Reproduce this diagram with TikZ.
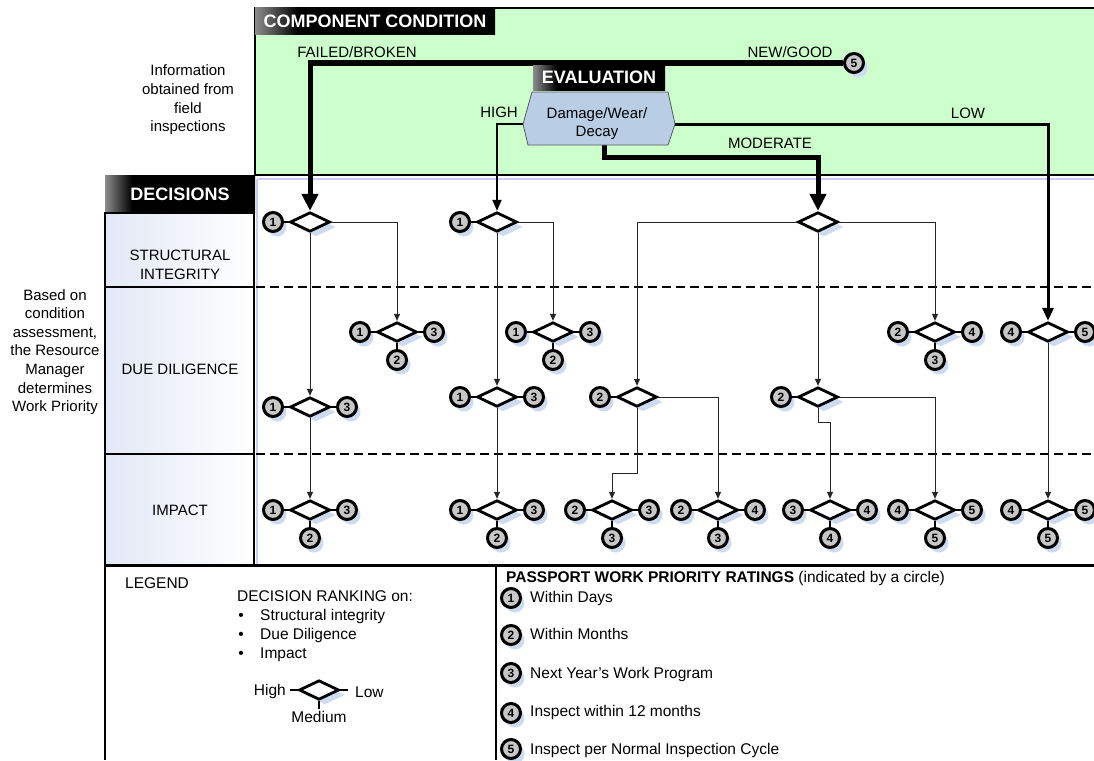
\documentclass[tikz,border=0pt]{standalone}
\usepackage{fontspec}
\setmainfont{Liberation Sans}
\usetikzlibrary{arrows.meta,shapes.geometric,shadows}
\definecolor{ccgreen}{RGB}{204,255,204}
\definecolor{hexblue}{RGB}{185,205,229}
\definecolor{shblue}{RGB}{205,218,240}
\definecolor{colblue}{RGB}{226,232,246}
\pgfdeclarehorizontalshading{hdrsh}{100bp}{color(0bp)=(black!45); color(25bp)=(black!45); color(34bp)=(black); color(100bp)=(black)}
\newcommand{\mydec}[6]{%
  \node[dm] (#1) at (#2,#3) {};%
  \if\relax\detokenize{#4}\relax\else
    \node[pc] (#1l) at (#2-37,#3) {#4};\draw[clink] (#1l) -- (#1.west);\fi
  \if\relax\detokenize{#5}\relax\else
    \node[pc] (#1r) at (#2+37,#3) {#5};\draw[clink] (#1r) -- (#1.east);\fi
  \if\relax\detokenize{#6}\relax\else
    \node[pc] (#1b) at (#2,#3+28) {#6};\draw[clink] (#1b) -- (#1.south);\fi
}
\begin{document}
\begin{tikzpicture}[x=1pt,y=-1pt,
  txt/.style={font=\fontsize{15}{18.6}\selectfont, inner sep=0pt, align=center},
  ltxt/.style={font=\fontsize{15.5}{18.6}\selectfont, inner sep=0pt},
  hdrbox/.style={shading=hdrsh, text=white, font=\bfseries\fontsize{18}{20}\selectfont, inner sep=0pt},
  colbox/.style={draw, line width=2.5pt, left color=colblue, right color=white, inner sep=0pt},
  pc/.style={circle, draw, line width=3pt, fill=black!22, minimum size=19pt, inner sep=0pt,
    font=\bfseries\fontsize{12}{12}\selectfont,
    drop shadow={shadow xshift=4pt, shadow yshift=-5pt, fill=shblue, opacity=1}},
  dm/.style={diamond, draw, line width=2.8pt, fill=white, minimum width=40pt, minimum height=19.5pt, inner sep=0pt,
    drop shadow={shadow xshift=6pt, shadow yshift=-5pt, fill=shblue, opacity=1}},
  clink/.style={line width=1.3pt},
  tarr/.style={line width=0.9pt, draw=black!85, -{Triangle[width=6pt,length=7pt]}},
  bigarr/.style={line width=5pt, -{Triangle[width=16pt,length=17pt]}},
  higharr/.style={line width=2pt, -{Triangle[width=9pt,length=11pt]}},
  lowarr/.style={line width=3pt, -{Triangle[width=11pt,length=13pt]}},
  dsh/.style={dash pattern=on 9pt off 5pt, line width=1.4pt}
]
\useasboundingbox (0,0) rectangle (1094,760);

% ---------- top green area
\fill[ccgreen] (255,8) rectangle (1094,175);
\draw[blue!20, line width=2pt] (258,179) -- (1094,179);
\draw[blue!20, line width=2pt] (257,179) -- (257,565);
\draw[line width=2.5pt] (1094,8) -- (255,8) -- (255,175) -- (1094,175);

% ---------- dashed row separators
\draw[dsh] (256,287) -- (1094,287);
\draw[dsh] (256,454) -- (1094,454);

% ---------- left column
\node[hdrbox, minimum width=150pt, minimum height=38pt] (dec) at (180,194) {DECISIONS};
\node[colbox, minimum width=149pt, minimum height=74pt] (si) at (179.5,250) {};
\node[colbox, minimum width=149pt, minimum height=167pt] (dd) at (179.5,370.5) {};
\node[colbox, minimum width=149pt, minimum height=111pt] (im) at (179.5,509.5) {};
\node[txt] (sit) at (180,265) {STRUCTURAL\\INTEGRITY};
\node[txt] (ddt) at (180,369) {DUE DILIGENCE};
\node[txt] (imt) at (180,510) {IMPACT};

% ---------- side texts
\node[txt] (info) at (188,100) {Information\\obtained from\\field\\inspections};
\node[txt] (based) at (55,352) {Based on\\condition\\assessment,\\the Resource\\Manager\\determines\\Work Priority};

% ---------- decisions
\mydec{d1}{310}{222}{1}{}{}
\mydec{d4}{497}{222}{1}{}{}
\mydec{d7}{818}{222}{}{}{}
\mydec{d3}{397}{332}{1}{3}{2}
\mydec{d6}{553}{332}{1}{3}{2}
\mydec{d10}{935}{332}{2}{4}{3}
\mydec{d11}{1048}{332}{4}{5}{}
\mydec{d2}{310}{407}{1}{3}{}
\mydec{d5}{497}{397}{1}{3}{}
\mydec{d8}{637}{397}{2}{}{}
\mydec{d9}{818}{397}{2}{}{}
\mydec{i1}{310}{510}{1}{3}{2}
\mydec{i2}{497}{510}{1}{3}{2}
\mydec{i3}{612}{510}{2}{3}{3}
\mydec{i4}{718}{510}{2}{4}{3}
\mydec{i5}{830}{510}{3}{4}{4}
\mydec{i6}{935}{510}{4}{5}{5}
\mydec{i7}{1048}{510}{4}{5}{5}

% ---------- thin branch connectors
\draw[tarr] (d1.east) -| (d3.north);
\draw[tarr] (d1.south) -- (d2.north);
\draw[tarr] (d4.east) -| (d6.north);
\draw[tarr] (d4.south) -- (d5.north);
\draw[tarr] (d7.west) -| (d8.north);
\draw[tarr] (d7.south) -- (d9.north);
\draw[tarr] (d7.east) -| (d10.north);
\draw[tarr] (d2.south) -- (i1.north);
\draw[tarr] (d5.south) -- (i2.north);
\coordinate (d8turn) at (637,473);
\draw[tarr] (d8.south) -- (d8turn) -| (i3.north);
\draw[tarr] (d8.east) -| (i4.north);
\coordinate (d9turn) at (818,422);
\draw[tarr] (d9.south) -- (d9turn) -| (i5.north);
\draw[tarr] (d9.east) -| (i6.north);
\draw[tarr] (d11.south) -- (i7.north);

% ---------- evaluation branches
\node[pc] (g5) at (854,63) {5};
\draw[bigarr] (g5.west) -| (d1.north);
\coordinate (hexL) at (523,124);
\coordinate (hexR) at (675,124);
\coordinate (hexB) at (604,145);
\coordinate (modturn) at (604,157);
\draw[higharr] (hexL) -| (d4.north);
\draw[lowarr] (hexR) -| (d11.north);
\draw[bigarr] (hexB) -- (modturn) -| (d7.north);

\node[hdrbox, minimum width=240pt, minimum height=27pt] (cc) at (375,21.5) {COMPONENT CONDITION};
\node[hdrbox, minimum width=132pt, minimum height=25pt] (ev) at (599,77.5) {EVALUATION};
\filldraw[fill=hexblue, draw=black!65, line width=0.8pt]
  (532,92) -- (668,92) -- (hexR) -- (668,145) -- (528,145) -- (hexL) -- cycle;
\node[txt, font=\fontsize{15}{18}\selectfont] (hex) at (597,124) {Damage/Wear/\\Decay};

\node[txt] (fbl) at (357,52) {FAILED/BROKEN};
\node[txt] (ngl) at (790,52) {NEW/GOOD};
\node[txt, anchor=east] (hil) at (518,112) {HIGH};
\node[txt] (lol) at (968,113) {LOW};
\node[txt] (mol) at (770,143) {MODERATE};

% ---------- legend frame
\draw[line width=3pt] (1094,565) -- (105,565);
\draw[line width=2.5pt] (105,565) -- (105,760);
\draw[line width=2.5pt] (496,565) -- (496,760);

\node[ltxt, anchor=base west] (lg) at (125,588.5) {LEGEND};
\node[ltxt, anchor=base west] (drk) at (237,601) {DECISION RANKING on:};
\node[ltxt, anchor=base] (b1) at (241,620.5) {\textbullet};
\node[ltxt, anchor=base] (b2) at (241,639.5) {\textbullet};
\node[ltxt, anchor=base] (b3) at (241,658.5) {\textbullet};
\node[ltxt, anchor=base west] (bt1) at (260,620.5) {Structural integrity};
\node[ltxt, anchor=base west] (bt2) at (260,639.5) {Due Diligence};
\node[ltxt, anchor=base west] (bt3) at (260,658.5) {Impact};

\node[dm] (lgd) at (319,690) {};
\node[ltxt, anchor=base east] (lhigh) at (286,695.5) {High};
\node[ltxt, anchor=base west] (llow) at (355,697.5) {Low};
\node[ltxt, anchor=base] (lmed) at (319,722.5) {Medium};
\coordinate (lgdl) at (290,690);
\coordinate (lgdr) at (348,690);
\coordinate (lgdb) at (319,709);
\draw[clink] (lgdl) -- (lgd.west);
\draw[clink] (lgd.east) -- (lgdr);
\draw[clink] (lgd.south) -- (lgdb);

\node[ltxt, anchor=base west] (pp) at (506,582.5) {\textbf{PASSPORT WORK PRIORITY RATINGS} (indicated by a circle)};
\node[pc] (p1) at (511,598) {1};
\node[pc] (p2) at (511,635) {2};
\node[pc] (p3) at (511,673) {3};
\node[pc] (p4) at (511,713) {4};
\node[pc] (p5) at (511,749) {5};
\node[ltxt, anchor=base west] (pt1) at (530,602.5) {Within Days};
\node[ltxt, anchor=base west] (pt2) at (530,639.5) {Within Months};
\node[ltxt, anchor=base west] (pt3) at (530,678.5) {Next Year’s Work Program};
\node[ltxt, anchor=base west] (pt4) at (530,716.5) {Inspect within 12 months};
\node[ltxt, anchor=base west] (pt5) at (530,754) {Inspect per Normal Inspection Cycle};
\end{tikzpicture}
\end{document}
